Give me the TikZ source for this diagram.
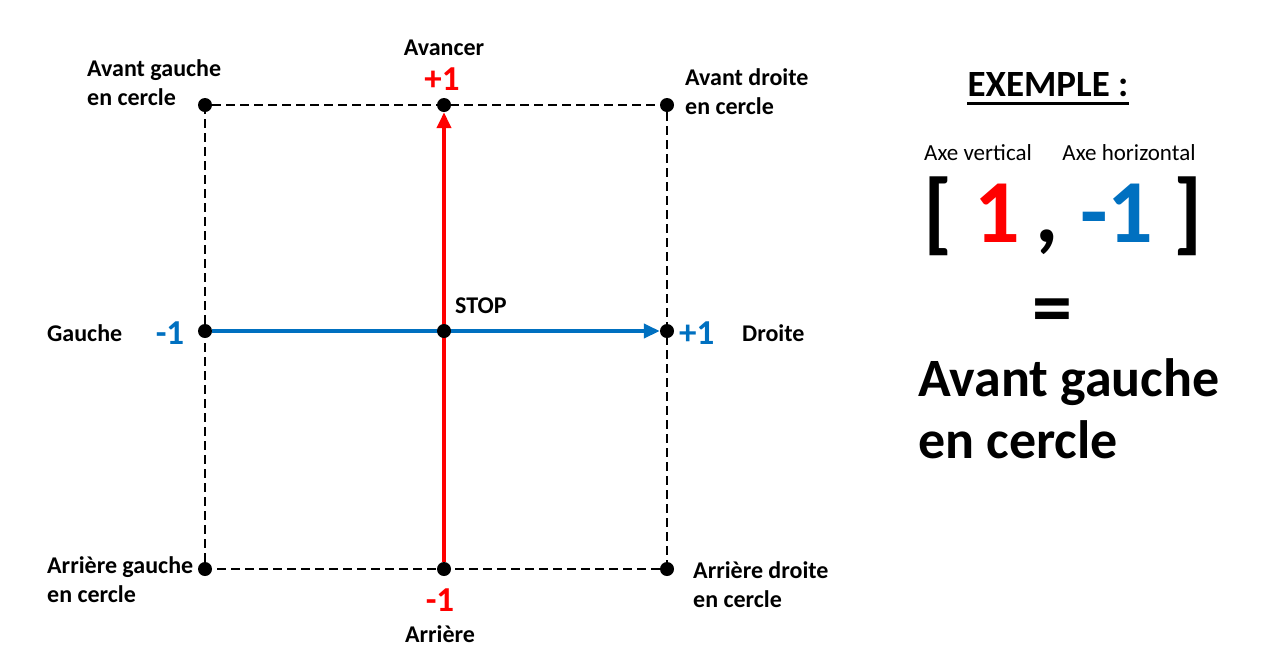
\documentclass[tikz,border=0pt]{standalone}
\usepackage{fontspec}
\setmainfont{Carlito}
\usetikzlibrary{arrows.meta}
\definecolor{axered}{RGB}{255,0,0}
\definecolor{axeblue}{RGB}{0,112,192}
\pgfdeclarelayer{background}
\pgfsetlayers{background,main}

\begin{document}
\begin{tikzpicture}[x=1pt,y=-1pt,
  dot/.style={circle,fill=black,inner sep=0pt,minimum size=14pt},
  lbl/.style={font=\fontsize{24}{29}\selectfont\bfseries,inner sep=0pt,align=left},
  val/.style={font=\fontsize{35}{40}\selectfont\bfseries,inner sep=0pt},
  small/.style={font=\fontsize{23}{28}\selectfont,inner sep=0pt},
  huge/.style={font=\fontsize{90}{100}\selectfont\bfseries,inner sep=0pt,anchor=base},
  border/.style={dashed,dash pattern=on 9pt off 5pt,line width=1.5pt},
  axe/.style={line width=4pt,-{Triangle[length=16pt,width=14pt]}}]
\useasboundingbox (0,0) rectangle (1263,657);

% points of the square
\node[dot] (tl) at (205,105) {};
\node[dot] (tc) at (444,105) {};
\node[dot] (tr) at (667,105) {};
\node[dot] (ml) at (205,331) {};
\node[dot] (mc) at (444,331) {};
\node[dot] (mr) at (667,331) {};
\node[dot] (bl) at (205,569) {};
\node[dot] (bc) at (444,569) {};
\node[dot] (br) at (667,569) {};

\begin{pgfonlayer}{background}
\draw[border] (tl) -- (tr) -- (br) -- (bl) -- (tl);
\draw[axe,axered] (bc) -- (tc);
\draw[axe,axeblue] (ml) -- (mr);
\end{pgfonlayer}

% labels
\node[lbl] (avancer) at (444,48) {Avancer};
\node[val,text=axered] (haut) at (442,79) {+1};
\node[lbl,anchor=west] (avg) at (87,83) {Avant gauche\\en cercle};
\node[lbl,anchor=west] (avd) at (685,92) {Avant droite\\en cercle};
\node[lbl,anchor=west] (stop) at (455,306) {STOP};
\node[lbl,anchor=west] (gauche) at (47,333) {Gauche};
\node[val,text=axeblue] (gval) at (170,333) {-1};
\node[val,text=axeblue,anchor=west] (dval) at (679,333) {+1};
\node[lbl,anchor=west] (droite) at (742,333) {Droite};
\node[lbl,anchor=west] (arg) at (47,580) {Arrière gauche\\en cercle};
\node[lbl,anchor=west] (ard) at (693,585) {Arrière droite\\en cercle};
\node[val,text=axered] (bas) at (440,600) {-1};
\node[lbl] (arriere) at (440,634) {Arrière};

% exemple
\node[font=\fontsize{37}{42}\selectfont\bfseries,inner sep=0pt] (ex) at (1048,85) {EXEMPLE :};
\draw[line width=2.5pt] ([yshift=-6pt]ex.south west) -- ([yshift=-6pt]ex.south east);
\node[small] (axev) at (978,153) {Axe vertical};
\node[small] (axeh) at (1129,153) {Axe horizontal};
\node[huge] (open) at (938,242) {[};
\node[huge,text=axered] (v1) at (997,242) {1};
\node[huge] (comma) at (1047,242) {,};
\node[huge,text=axeblue] (v2) at (1117,242) {-1};
\node[huge] (close) at (1188,242) {]};
\node[font=\fontsize{80}{90}\selectfont\bfseries,inner sep=0pt] (eq) at (1052,317) {=};
\node[font=\fontsize{54}{62}\selectfont\bfseries,inner sep=0pt,align=left,anchor=west] (res) at (918,409) {Avant gauche\\en cercle};
\end{tikzpicture}
\end{document}
